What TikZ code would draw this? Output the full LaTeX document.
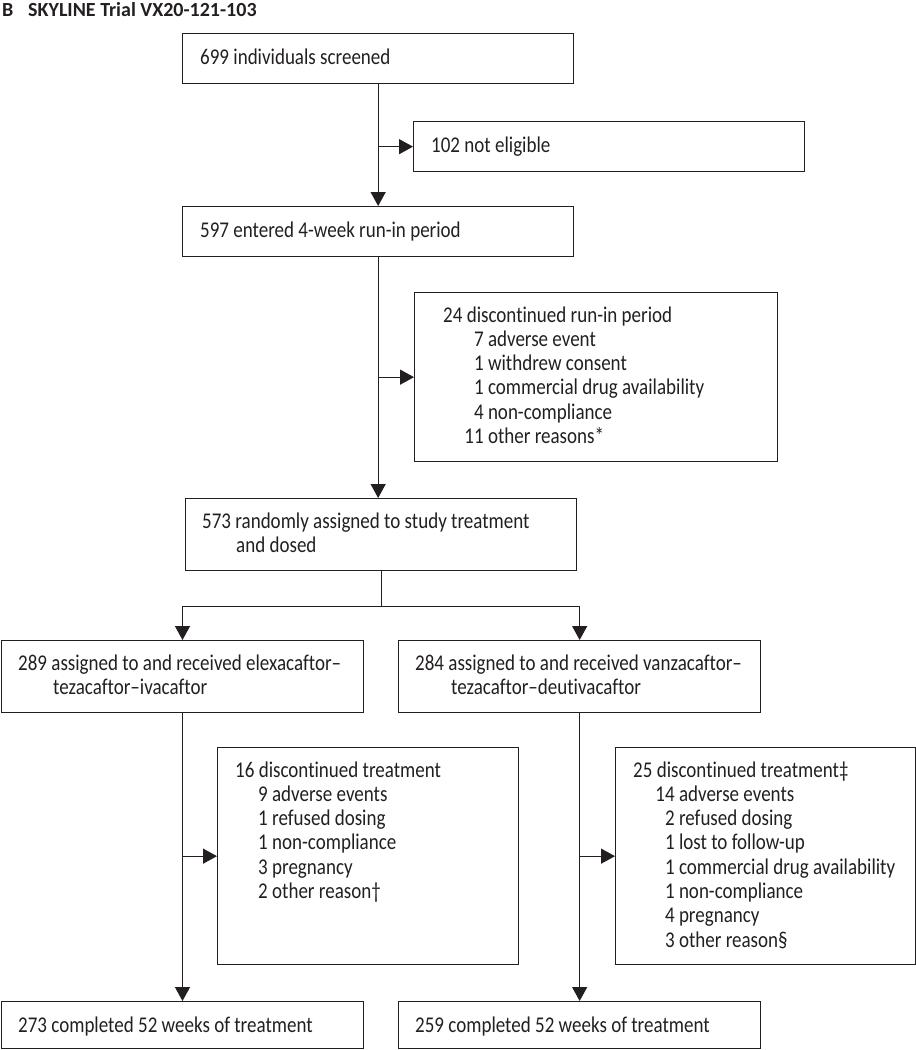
\documentclass[tikz,border=0pt]{standalone}
\usepackage{fontspec}
\setmainfont{Carlito}[FakeStretch=0.845, Ligatures={NoCommon}]
\newfontfamily\ttlfont{Carlito}
\usetikzlibrary{arrows.meta}
\definecolor{ink}{HTML}{231F20}
\begin{document}
\begin{tikzpicture}[x=1pt,y=-1pt,
  box/.style={draw=ink, line width=1.3pt, rectangle, inner sep=0pt, anchor=north west},
  txt/.style={inner sep=0pt, anchor=base west, text=ink, font=\fontsize{22.5}{24.3}\selectfont},
  ttl/.style={inner sep=0pt, anchor=base west, text=ink, font=\ttlfont\bfseries\fontsize{20}{24}\selectfont},
  conn/.style={draw=ink, line width=1.3pt},
  arr/.style={conn, -{Triangle[length=14pt,width=15pt]}}]
\useasboundingbox (0,0) rectangle (916,1050);

% title
\node[ttl] (ttlB) at (2,16) {B};
\node[ttl] (ttl) at (28,16) {SKYLINE Trial VX20-121-103};

% boxes
\node[box, minimum width=391pt, minimum height=50pt] (b1) at (182,33) {};
\node[box, minimum width=391pt, minimum height=50pt] (ne) at (413,121) {};
\node[box, minimum width=391pt, minimum height=50pt] (b2) at (182,206) {};
\node[box, minimum width=363pt, minimum height=169pt] (d1) at (414,292) {};
\node[box, minimum width=391pt, minimum height=72pt] (b3) at (185,498) {};
\node[box, minimum width=362.3pt, minimum height=72pt] (aL) at (0.7,640) {};
\node[box, minimum width=362pt, minimum height=72pt] (aR) at (398,640) {};
\node[box, minimum width=301pt, minimum height=217pt] (dL) at (217,747) {};
\node[box, minimum width=300pt, minimum height=217pt] (dR) at (615,747) {};
\node[box, minimum width=362.3pt, minimum height=47pt] (cL) at (0.7,1001) {};
\node[box, minimum width=362pt, minimum height=47pt] (cR) at (398,1001) {};

% texts
\node[txt] (t1) at (200,64) {699 individuals screened};
\node[txt] (tne) at (431,152) {102 not eligible};
\node[txt] (t2) at (200,237) {597 entered 4-week run-in period};
\node[txt] (d1h) at (443,322) {24 discontinued run-in period};
\foreach \n/\t [count=\i] in {7/adverse event,1/withdrew consent,1/commercial drug availability,4/non-compliance,11/other reasons*}
  \node[txt] (d1i\i) at (465,{322+24.3*\i}) {\makebox[18.5pt][r]{\n}\ \t};
\node[txt] (t3a) at (202,528) {573 randomly assigned to study treatment};
\node[txt] (t3b) at (236,552) {and dosed};
\node[txt] (tLa) at (18,670) {289 assigned to and received elexacaftor–};
\node[txt] (tLb) at (53,694) {tezacaftor–ivacaftor};
\node[txt] (tRa) at (415,670) {284 assigned to and received vanzacaftor–};
\node[txt] (tRb) at (451,694) {tezacaftor–deutivacaftor};
\node[txt] (dLh) at (235,777) {16 discontinued treatment};
\foreach \t [count=\i] in {9 adverse events,1 refused dosing,1 non-compliance,3 pregnancy,2 other reason†}
  \node[txt] (dLi\i) at (258,{777+24.3*\i}) {\t};
\node[txt] (dRh) at (633,777) {25 discontinued treatment‡};
\foreach \n/\t [count=\i] in {14/adverse events,2/refused dosing,1/lost to follow-up,1/commercial drug availability,1/non-compliance,4/pregnancy,3/other reason§}
  \node[txt] (dRi\i) at (656,{777+24.3*\i}) {\makebox[18.5pt][r]{\n}\ \t};
\node[txt] (tcL) at (18,1032) {273 completed 52 weeks of treatment};
\node[txt] (tcR) at (415,1032) {259 completed 52 weeks of treatment};

% connectors
\draw[arr] (b1.south) -- (b2.north);
\draw[arr] (b1.south |- ne.west) -- (ne.west);
\draw[arr] (b2.south) -- (b2.south |- b3.north);
\draw[arr] (b2.south |- d1.west) -- (d1.west);
\path (b3.south) ++(0,35) coordinate (split);
\draw[conn] (b3.south) -- (split);
\draw[arr] (split) -| (aL.north);
\draw[arr] (split) -| (aR.north);
\draw[arr] (aL.south) -- (aL.south |- cL.north);
\draw[arr] (aL.south |- dL.west) -- (dL.west);
\draw[arr] (aR.south) -- (aR.south |- cR.north);
\draw[arr] (aR.south |- dR.west) -- (dR.west);
\end{tikzpicture}
\end{document}
